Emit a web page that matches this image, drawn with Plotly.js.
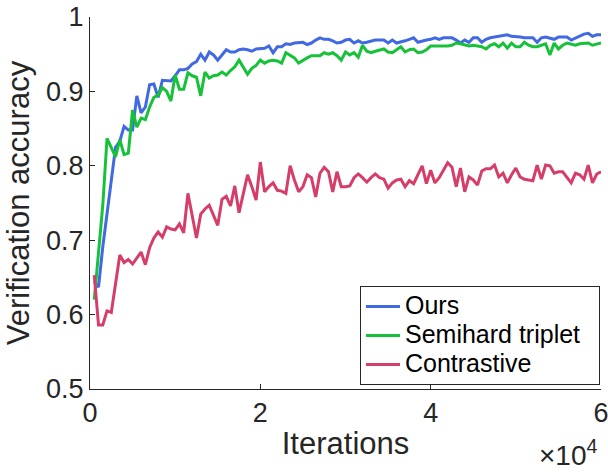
<!DOCTYPE html>
<html>
<head>
<meta charset="utf-8">
<script src="https://cdn.plot.ly/plotly-3.0.1.min.js"></script>
<style>html,body{margin:0;padding:0;background:#fff;}#chart{width:608px;height:472px;}</style>
</head>
<body>
<div id="chart"></div>
<script>
// Verification accuracy every 500 iterations (500 ... 60000)
const ours = [
0.645,0.637,0.691,0.738,0.784,0.825,0.833,0.853,0.848,0.848,
0.894,0.871,0.879,0.909,0.910,0.892,0.915,0.915,0.914,0.921,
0.929,0.929,0.931,0.937,0.940,0.950,0.942,0.953,0.949,0.942,
0.949,0.956,0.953,0.953,0.956,0.957,0.956,0.954,0.957,0.958,
0.958,0.961,0.952,0.960,0.960,0.964,0.963,0.965,0.966,0.966,
0.963,0.965,0.969,0.972,0.970,0.970,0.968,0.965,0.966,0.969,
0.970,0.965,0.968,0.965,0.966,0.968,0.969,0.969,0.969,0.965,
0.969,0.965,0.966,0.968,0.970,0.972,0.966,0.968,0.969,0.970,
0.972,0.970,0.972,0.972,0.972,0.969,0.965,0.969,0.966,0.972,
0.972,0.966,0.970,0.972,0.973,0.974,0.976,0.976,0.974,0.973,
0.973,0.972,0.972,0.972,0.966,0.972,0.973,0.972,0.970,0.973,
0.973,0.973,0.969,0.972,0.974,0.977,0.978,0.974,0.976,0.976
];
const semihard = [
0.620,0.681,0.747,0.837,0.824,0.812,0.835,0.815,0.817,0.875,
0.852,0.864,0.862,0.879,0.892,0.895,0.905,0.900,0.887,0.922,
0.903,0.903,0.925,0.921,0.919,0.894,0.926,0.918,0.921,0.922,
0.926,0.922,0.928,0.933,0.942,0.933,0.923,0.931,0.935,0.942,
0.938,0.941,0.942,0.941,0.938,0.952,0.948,0.945,0.938,0.942,
0.945,0.948,0.948,0.948,0.952,0.950,0.952,0.948,0.942,0.953,
0.949,0.952,0.946,0.962,0.954,0.952,0.954,0.956,0.957,0.953,
0.952,0.956,0.960,0.953,0.956,0.957,0.952,0.953,0.956,0.961,
0.961,0.961,0.960,0.961,0.962,0.965,0.964,0.962,0.961,0.962,
0.961,0.960,0.957,0.962,0.964,0.960,0.965,0.958,0.965,0.960,
0.960,0.966,0.962,0.960,0.960,0.962,0.964,0.949,0.965,0.957,
0.962,0.965,0.964,0.962,0.964,0.965,0.965,0.962,0.964,0.965
];
const contrastive = [
0.653,0.586,0.586,0.605,0.603,0.644,0.680,0.670,0.674,0.668,
0.676,0.684,0.667,0.690,0.703,0.711,0.704,0.718,0.715,0.714,
0.722,0.710,0.763,0.734,0.703,0.735,0.742,0.747,0.734,0.720,
0.755,0.759,0.746,0.773,0.737,0.765,0.788,0.772,0.754,0.805,
0.765,0.772,0.777,0.767,0.766,0.763,0.800,0.781,0.765,0.772,
0.788,0.784,0.758,0.790,0.798,0.792,0.765,0.792,0.772,0.772,
0.773,0.784,0.789,0.784,0.778,0.784,0.789,0.784,0.782,0.770,
0.777,0.781,0.782,0.772,0.780,0.776,0.788,0.800,0.776,0.794,
0.777,0.784,0.794,0.804,0.798,0.772,0.797,0.765,0.785,0.781,
0.774,0.793,0.796,0.796,0.801,0.785,0.790,0.777,0.788,0.797,
0.785,0.782,0.781,0.780,0.801,0.782,0.801,0.800,0.790,0.792,
0.792,0.784,0.777,0.790,0.788,0.782,0.801,0.777,0.789,0.792
];
const seriesNames = ['Ours', 'Semihard triplet', 'Contrastive'];
const xTickVals = [0, 20000, 40000, 60000];
const xTickText = ['0', '2', '4', '6'];
const yTickVals = [0.5, 0.6, 0.7, 0.8, 0.9, 1.0];
const yTickText = ['0.5', '0.6', '0.7', '0.8', '0.9', '1'];

const iterations = ours.map((_, k) => (k + 1) * 500);
const colors = ['#4169E1', '#17C23A', '#D63E6A'];
const FONT = '"Liberation Sans", Arial, Helvetica, sans-serif';
const AX = '#262626';

const traces = [ours, semihard, contrastive].map((ys, k) => ({
  x: iterations, y: ys, type: 'scatter', mode: 'lines',
  name: '<span style="font-size:25px">' + seriesNames[k] + (k === 1 ? '\u00a0\u00a0' : '') + '</span>',
  line: {color: colors[k], width: 3}
}));

const layout = {
  width: 608, height: 472,
  margin: {l: 90, r: 7, t: 17, b: 83},
  paper_bgcolor: '#fff', plot_bgcolor: '#fff',
  font: {family: FONT, color: AX},
  showlegend: true,
  legend: {
    x: 0.998, y: 0.011, xanchor: 'right', yanchor: 'bottom',
    bgcolor: '#fff', bordercolor: AX, borderwidth: 1,
    font: {family: FONT, size: 20, color: '#000'},
    itemwidth: 34, tracegroupgap: 0
  },
  xaxis: {
    range: [0, 60000], showgrid: false, zeroline: false,
    showline: true, linecolor: AX, linewidth: 1, mirror: false,
    ticks: 'inside', ticklen: 5, tickwidth: 1, tickcolor: AX,
    tickvals: xTickVals, ticktext: xTickText, ticklabeloverflow: 'allow',
    tickfont: {family: FONT, size: 27, color: AX},
    title: {text: 'Iterations', font: {family: FONT, size: 31, color: AX}, standoff: 4}
  },
  yaxis: {
    range: [0.5, 1], showgrid: false, zeroline: false,
    showline: true, linecolor: AX, linewidth: 1, mirror: false,
    ticks: 'inside', ticklen: 5, tickwidth: 1, tickcolor: AX,
    tickvals: yTickVals, ticktext: yTickText, ticklabeloverflow: 'allow',
    tickfont: {family: FONT, size: 27, color: AX},
    title: {text: 'Verification accuracy', font: {family: FONT, size: 31, color: AX}, standoff: 7}
  },
  annotations: [{
    xref: 'paper', yref: 'paper', x: 0.996, y: -0.222,
    xanchor: 'right', yanchor: 'bottom', showarrow: false, borderpad: 0,
    text: '×10<sup>4</sup>', font: {family: FONT, size: 28, color: AX}
  }]
};

Plotly.newPlot('chart', traces, layout, {displayModeBar: false, staticPlot: true});
</script>
</body>
</html>
